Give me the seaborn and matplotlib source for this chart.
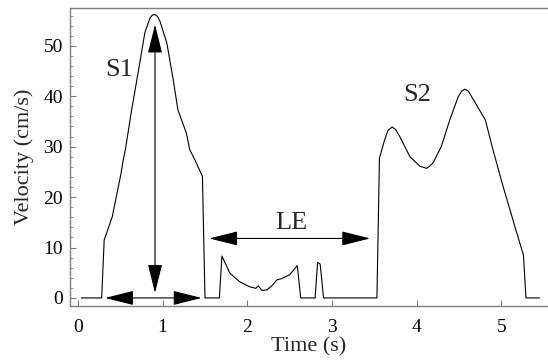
import matplotlib
matplotlib.use("Agg")
import matplotlib.pyplot as plt
import matplotlib.ticker as mticker
import pandas as pd
import seaborn as sns

# velocity trace
time_s = [0.04, 0.28, 0.31, 0.405, 0.51, 0.535, 0.56, 0.634, 0.73, 0.79, 0.85,
          0.88, 0.91, 0.94, 0.97, 1.05, 1.125, 1.18, 1.28, 1.32, 1.38, 1.47, 1.50,
          1.67, 1.70, 1.795, 1.91, 2.03, 2.10, 2.13, 2.17, 2.23, 2.29, 2.35, 2.40,
          2.50, 2.59, 2.63, 2.80, 2.83, 2.86, 2.90, 3.53, 3.56, 3.62, 3.66, 3.71,
          3.75, 3.80, 3.92, 4.04, 4.12, 4.19, 4.29, 4.39, 4.49, 4.53, 4.57, 4.61,
          4.67, 4.81, 4.90, 5.02, 5.16, 5.26, 5.29, 5.45]
velocity = [0, 0, 11.5, 16.1, 24.8, 27.4, 29.4, 37.3, 46.6, 52.6, 55.5,
            56.1, 56.2, 55.8, 54.8, 50.5, 43.3, 37.3, 32.7, 29.4, 27.4, 24.1, 0,
            0, 8.3, 4.9, 3.2, 2.2, 1.9, 2.4, 1.5, 1.6, 2.4, 3.6, 3.8,
            4.6, 6.4, 0, 0, 7.1, 6.7, 0, 0, 27.7, 31.3, 33.2, 33.9,
            33.4, 32.0, 28.0, 26.1, 25.7, 26.7, 30.0, 35.3, 39.9, 41.0, 41.4, 41.0,
            39.3, 35.3, 29.4, 22.1, 14.1, 8.5, 0, 0]

# annotations
labels = ["S1", "S2", "LE"]
label_x = [0.49, 4.01, 2.52]
label_y = [45.2, 40.3, 14.8]

df = pd.DataFrame({"Time": time_s, "Velocity": velocity})

sns.set_theme(style="ticks")
plt.rcParams['font.family'] = ['Liberation Serif', 'DejaVu Serif']

fig = plt.figure(figsize=(5.48, 3.63), dpi=100)
ax = fig.add_axes([0.1277, 0.157, 0.8723, 0.821])

sns.lineplot(x="Time", y="Velocity", data=df, ax=ax, sort=False, estimator=None,
             color="black", linewidth=0.8)

arrow_kw = dict(arrowstyle="<|-|>,head_length=1.8,head_width=0.45",
                mutation_scale=10, color="black", lw=0.8, shrinkA=0, shrinkB=0)
ax.annotate("", xy=(0.91, 54.2), xytext=(0.91, 1.0), arrowprops=arrow_kw)
ax.annotate("", xy=(0.32, 0), xytext=(1.46, 0), arrowprops=arrow_kw)
ax.annotate("", xy=(1.55, 11.8), xytext=(3.45, 11.8), arrowprops=arrow_kw)

for txt, lx, ly in zip(labels, label_x, label_y):
    ax.text(lx, ly, txt, fontsize=19, ha="center", va="center")

ax.set_xlim(-0.094, 5.55)
ax.set_ylim(-1.6, 57.5)
ax.set_xticks([0, 1, 2, 3, 4, 5])
ax.set_yticks([0, 10, 20, 30, 40, 50])
ax.yaxis.set_minor_locator(mticker.MultipleLocator(2))
ax.tick_params(axis="both", which="both", direction="in", colors="#808080",
               labelcolor="black", labelsize=14)
ax.tick_params(axis="both", which="major", length=4, width=0.8)
ax.tick_params(axis="y", which="minor", length=2, width=0.6)
ax.tick_params(axis="x", which="major", pad=9)
ax.tick_params(axis="y", which="major", pad=5)

ax.set_xlabel("Time (s)", fontsize=16, labelpad=1)
ax.set_ylabel("Velocity (cm/s)", fontsize=16, labelpad=7)

for side in ["left", "bottom", "top"]:
    ax.spines[side].set_color("#808080")
    ax.spines[side].set_linewidth(1.0)
ax.spines["right"].set_visible(False)

plt.savefig("out.png", dpi=100)
